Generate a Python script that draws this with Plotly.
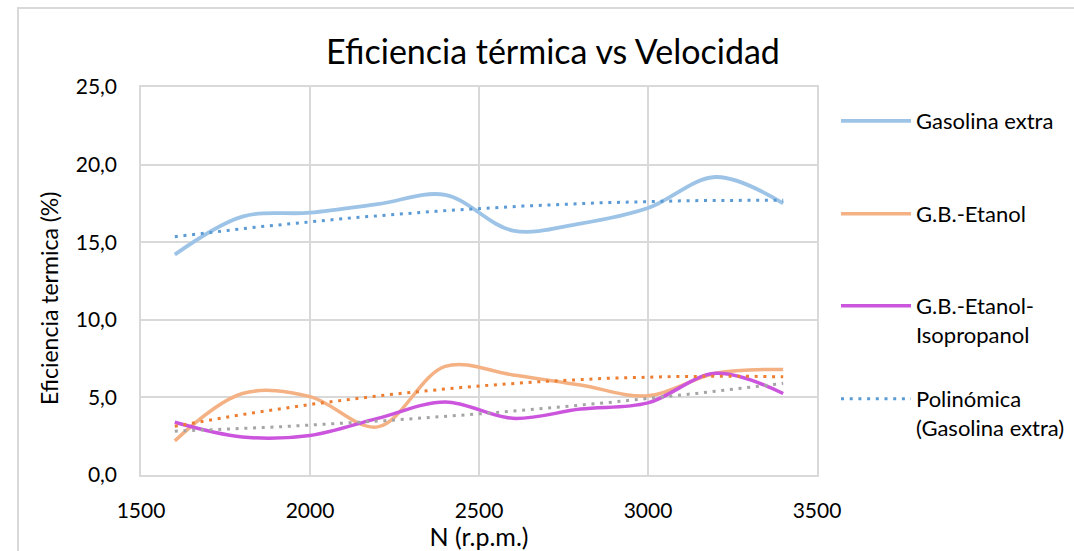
import numpy as np
import plotly.graph_objects as go

# Engine speed (r.p.m.) and thermal efficiency (%) for each fuel blend
rpm = [1600, 1800, 2000, 2200, 2400, 2600, 2800, 3000, 3200, 3400]
gasolina_extra = [14.2, 16.65, 16.9, 17.45, 18.05, 15.75, 16.2, 17.2, 19.2, 17.5]
gb_etanol = [2.2, 5.25, 5.05, 3.1, 7.0, 6.45, 5.8, 5.1, 6.55, 6.8]
gb_etanol_isopropanol = [3.4, 2.45, 2.55, 3.65, 4.7, 3.65, 4.25, 4.65, 6.55, 5.25]

y_ticks = [0, 5, 10, 15, 20, 25]
y_tick_text = ["0,0", "5,0", "10,0", "15,0", "20,0", "25,0"]
x_ticks = [1500, 2000, 2500, 3000, 3500]

FONT = "Lato"
GRID = "#D9D9D9"


def poly_trend(x, y, order=2, n=120):
    coef = np.polyfit(x, y, order)
    xs = np.linspace(min(x), max(x), n)
    return xs, np.polyval(coef, xs)


fig = go.Figure()

series = [
    ("Gasolina extra", gasolina_extra, "#9DC3E6", "legend", 3.8),
    ("G.B.-Etanol", gb_etanol, "#F4B183", "legend2", 3.5),
    ("G.B.-Etanol-<br>Isopropanol", gb_etanol_isopropanol, "#CC55DD", "legend3", 3.5),
]
for name, vals, color, leg, lw in series:
    fig.add_trace(go.Scatter(
        x=rpm, y=vals, name=name, mode="lines", showlegend=True,
        line=dict(color=color, width=lw, shape="spline", smoothing=1.0),
        legend=leg,
    ))

trends = [
    ("Polinómica<br>(Gasolina extra)", gasolina_extra, "#5B9BD5", True),
    ("Polinómica (G.B.-Etanol)", gb_etanol, "#ED7D31", False),
    ("Polinómica (G.B.-Etanol-Isopropanol)", gb_etanol_isopropanol, "#A5A5A5", False),
]
for name, vals, color, show in trends:
    xs, ys = poly_trend(rpm, vals)
    fig.add_trace(go.Scatter(
        x=xs, y=ys, name=name, mode="lines", showlegend=show,
        line=dict(color=color, width=3, dash="3px,5.7px"),
        legend="legend4",
    ))

# plot-area geometry in pixels (figure is 1074 x 551)
L, R, T, B = 141, 257, 87, 76
W, H = 1074 - L - R, 551 - T - B


def px_x(px):
    return (px - L) / W


def px_y(py):
    return (551 - B - py) / H


legend_style = dict(font=dict(family=FONT, size=22, color="#000000"),
                    bgcolor="rgba(0,0,0,0)", xanchor="left", yanchor="top",
                    valign="top", itemwidth=70, tracegroupgap=0)
legend_tops = [100, 193, 285, 378]
legend_x = px_x(836)

fig.update_layout(
    width=1074, height=551,
    margin=dict(l=L, r=R, t=T, b=B, autoexpand=False),
    paper_bgcolor="white", plot_bgcolor="white",
    showlegend=True,
    font=dict(family=FONT, size=21, color="#000000"),
    title=dict(text="Eficiencia térmica vs Velocidad", x=px_x(553), xanchor="center",
               xref="paper", y=1 - 52 / 551, yanchor="middle",
               font=dict(family=FONT, size=34, color="#000000")),
    legend=dict(x=legend_x, y=px_y(legend_tops[0]), **legend_style),
    legend2=dict(x=legend_x, y=px_y(legend_tops[1]), **legend_style),
    legend3=dict(x=legend_x, y=px_y(legend_tops[2]), **legend_style),
    legend4=dict(x=legend_x, y=px_y(legend_tops[3]), **legend_style),
    xaxis=dict(range=[1500, 3500], tickvals=x_ticks, showgrid=True, gridcolor=GRID,
               gridwidth=1.5, showline=True, linecolor=GRID, linewidth=1.5, mirror=True,
               zeroline=False, ticks="", ticklabelstandoff=16,
               tickfont=dict(family=FONT, size=21),
               title=dict(text="N (r.p.m.)", standoff=5, font=dict(family=FONT, size=25))),
    yaxis=dict(range=[0, 25], tickvals=y_ticks, ticktext=y_tick_text, showgrid=True,
               gridcolor=GRID, gridwidth=1.5, showline=True, linecolor=GRID,
               linewidth=1.5, mirror=True, zeroline=False, ticks="",
               ticklabelstandoff=18, tickfont=dict(family=FONT, size=21)),
    annotations=[dict(text="Eficiencia termica (%)", textangle=-90, showarrow=False,
                      xref="paper", yref="paper", x=px_x(49), y=px_y(299),
                      xanchor="center", yanchor="middle",
                      font=dict(family=FONT, size=23, color="#000000"))],
    shapes=[dict(type="rect", xref="paper", yref="paper",
                 x0=px_x(18), x1=px_x(1090), y0=px_y(570), y1=px_y(8),
                 line=dict(color=GRID, width=2), fillcolor="rgba(0,0,0,0)",
                 layer="below")],
)

fig.write_html("out.html")
